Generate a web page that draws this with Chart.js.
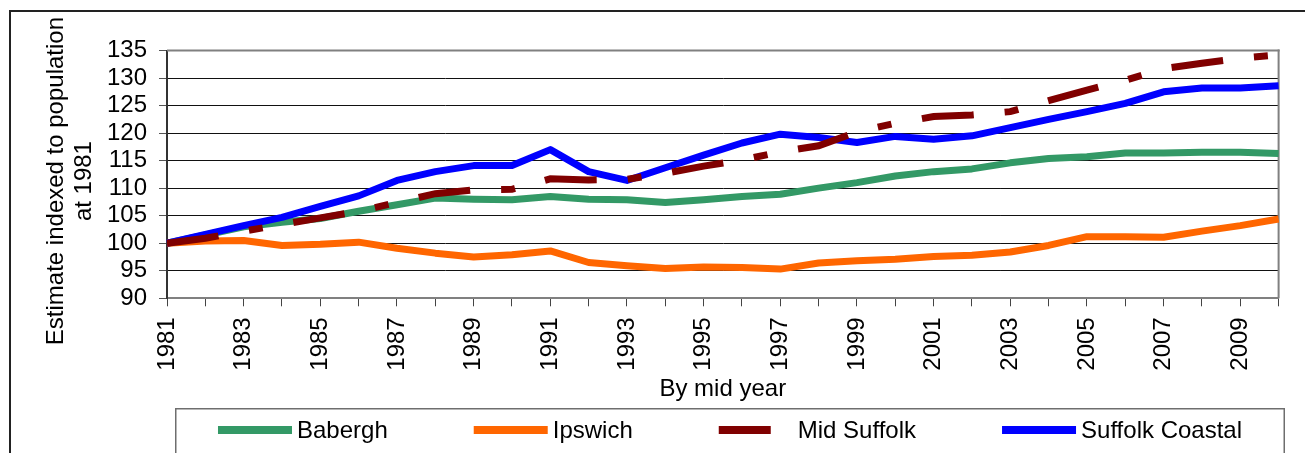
<!DOCTYPE html>
<html>
<head>
<meta charset="utf-8">
<script src="https://cdn.jsdelivr.net/npm/chart.js@4.4.1/dist/chart.umd.min.js"></script>
<style>
    html, body { margin: 0; padding: 0; background: #fff; }
    #wrap { position: relative; width: 1305px; height: 453px; overflow: hidden; }
</style>
</head>
<body>
<div id="wrap"><canvas id="popChart" width="1305" height="453"></canvas></div>
<script>
// Mid year population estimates, indexed to 1981 = 100
const years = ['1981', '1982', '1983', '1984', '1985', '1986', '1987', '1988', '1989', '1990',
    '1991', '1992', '1993', '1994', '1995', '1996', '1997', '1998', '1999', '2000',
    '2001', '2002', '2003', '2004', '2005', '2006', '2007', '2008', '2009', '2010'];

const babergh = [100, 101.5, 103.0, 103.8, 104.5, 105.8, 107.0, 108.2, 108.0, 107.9,
    108.5, 108.0, 107.9, 107.4, 107.9, 108.5, 108.9, 110.0, 111.0, 112.2,
    113.0, 113.5, 114.6, 115.4, 115.7, 116.4, 116.4, 116.5, 116.5, 116.3];

const ipswich = [100, 100.4, 100.5, 99.6, 99.8, 100.2, 99.1, 98.2, 97.5, 97.9,
    98.6, 96.5, 95.9, 95.4, 95.7, 95.6, 95.3, 96.4, 96.8, 97.1,
    97.6, 97.8, 98.4, 99.6, 101.2, 101.2, 101.1, 102.2, 103.2, 104.4];

const midSuffolk = [100, 100.9, 102.2, 103.4, 104.6, 105.8, 107.4, 109.0, 109.7, 109.8,
    111.7, 111.5, 111.6, 112.7, 114.0, 115.1, 116.6, 117.7, 120.2, 121.8,
    123.0, 123.3, 123.9, 125.9, 127.8, 129.6, 131.7, 132.7, 133.6, 134.2];

const suffolkCoastal = [100, 101.6, 103.2, 104.7, 106.7, 108.6, 111.4, 113.0, 114.1, 114.1,
    117.0, 113.0, 111.4, 113.7, 116.0, 118.2, 119.8, 119.2, 118.3, 119.4,
    118.9, 119.5, 121.0, 122.5, 123.9, 125.4, 127.5, 128.2, 128.2, 128.6];

// trailing spaces nudge the rotated title down a little, like the original
const yTitle = ['Estimate indexed to population  ', 'at 1981  '];
const xTitle = 'By mid year';

const fontFamily = '"Liberation Sans", Arial, sans-serif';

// frame, plot border and the boxed legend, Excel style
const excelBits = {
    id: 'excelBits',
    beforeDatasetsDraw(chart) {
        const ctx = chart.ctx;
        const a = chart.chartArea;
        ctx.save();
        ctx.fillStyle = '#808080';
        ctx.fillRect(a.left, a.top - 1, a.right - a.left + 1, 2);
        ctx.fillRect(a.right - 1, a.top - 1, 2, a.bottom - a.top + 1);
        ctx.restore();
    },
    afterDraw(chart) {
        const ctx = chart.ctx;
        ctx.save();
        // outer chart frame
        ctx.fillStyle = '#222';
        ctx.fillRect(9, 10, 1300, 2);
        ctx.fillRect(9, 10, 2, 450);

        // legend box
        const left = 175, right = 1285, top = 408;
        ctx.fillStyle = '#6e6e6e';
        ctx.fillRect(left, top, right - left, 1.5);
        ctx.fillRect(left, top, 1.5, 60);
        ctx.fillRect(right - 1.5, top, 1.5, 60);

        ctx.font = '24px ' + fontFamily;
        const sample = 74, gap = 5, spacing = 86, y = 430;
        const items = chart.data.datasets.map(ds => ({
            ds: ds,
            w: sample + gap + ctx.measureText(ds.label).width
        }));
        const total = items.reduce((s, it) => s + it.w, 0) + spacing * (items.length - 1);
        let x = (left + right) / 2 - total / 2;
        items.forEach(it => {
            ctx.beginPath();
            ctx.setLineDash(it.ds.borderDash || []);
            ctx.lineCap = 'butt';
            ctx.lineWidth = 8;
            ctx.strokeStyle = it.ds.borderColor;
            ctx.moveTo(x, y);
            ctx.lineTo(x + sample, y);
            ctx.stroke();
            ctx.setLineDash([]);
            ctx.fillStyle = '#000';
            ctx.textBaseline = 'middle';
            ctx.textAlign = 'left';
            ctx.fillText(it.ds.label, x + sample + gap, y + 1);
            x += it.w + spacing;
        });
        ctx.restore();
    }
};

const ctx = document.getElementById('popChart').getContext('2d');
const popChart = new Chart(ctx, {
    type: 'line',
    data: {
        labels: years,
        datasets: [{
            label: 'Babergh',
            data: babergh,
            borderColor: '#339966',
            borderWidth: 7,
            order: 3
        }, {
            label: 'Ipswich',
            data: ipswich,
            borderColor: '#FF6600',
            borderWidth: 7,
            order: 2
        }, {
            label: 'Mid Suffolk',
            data: midSuffolk,
            borderColor: '#800000',
            borderWidth: 7,
            borderDash: [52, 31, 14, 31],
            borderCapStyle: 'butt',
            borderJoinStyle: 'miter',
            order: 0
        }, {
            label: 'Suffolk Coastal',
            data: suffolkCoastal,
            borderColor: '#0000FF',
            borderWidth: 7,
            order: 1
        }]
    },
    options: {
        responsive: false,
        animation: false,
        layout: {
            padding: { top: 50.5, right: 26.4, bottom: 45, left: 0 }
        },
        elements: {
            point: { radius: 0 },
            line: { tension: 0, borderJoinStyle: 'round' }
        },
        plugins: {
            legend: { display: false },
            tooltip: { enabled: false }
        },
        scales: {
            x: {
                grid: {
                    drawOnChartArea: false,
                    drawTicks: true,
                    tickLength: 8,
                    tickColor: '#444',
                    lineWidth: 1
                },
                border: { color: '#808080', width: 2 },
                ticks: {
                    autoSkip: false,
                    minRotation: 90,
                    maxRotation: 90,
                    padding: 11,
                    color: '#000',
                    font: { family: fontFamily, size: 24 },
                    callback: (value, index) => (index % 2 === 0 ? years[index] : '')
                },
                title: {
                    display: true,
                    text: xTitle,
                    color: '#000',
                    font: { family: fontFamily, size: 24, lineHeight: 1.15 },
                    padding: { top: 0, bottom: 5 }
                },
                afterFit: scale => {
                    scale.height = 109.7;
                    scale.paddingLeft = 0;
                    scale.paddingRight = 0;
                }
            },
            y: {
                min: 90,
                max: 135,
                grid: {
                    color: '#111',
                    lineWidth: 1,
                    tickLength: 8,
                    tickColor: '#555'
                },
                border: { color: '#333', width: 2 },
                ticks: {
                    stepSize: 5,
                    autoSkip: false,
                    padding: 12,
                    color: '#000',
                    font: { family: fontFamily, size: 24 }
                },
                title: {
                    display: true,
                    text: yTitle,
                    color: '#000',
                    font: { family: fontFamily, size: 24, lineHeight: 1.15 },
                    padding: { top: 43, bottom: 0 }
                },
                afterFit: scale => {
                    scale.width = 167;
                    scale.paddingTop = 0;
                    scale.paddingBottom = 0;
                }
            }
        }
    },
    plugins: [excelBits]
});
</script>
</body>
</html>
